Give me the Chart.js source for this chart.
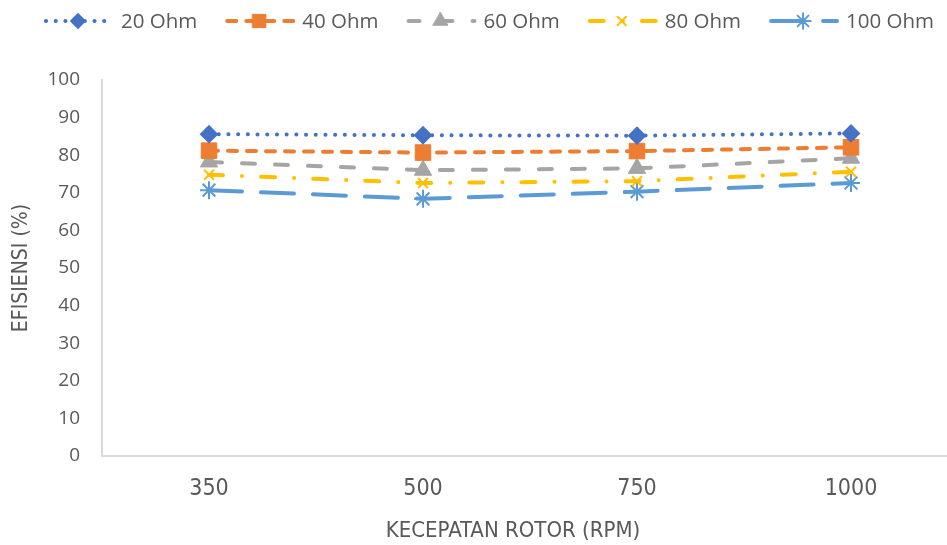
<!DOCTYPE html>
<html>
<head>
<meta charset="utf-8">
<script src="https://cdn.jsdelivr.net/npm/chart.js@4/dist/chart.umd.min.js"></script>
<style>
  html, body { margin: 0; padding: 0; background: #ffffff; overflow: hidden; }
  #wrap { position: relative; width: 977px; height: 545px; }
</style>
</head>
<body>
<div id="wrap"><canvas id="chart"></canvas></div>
<script>
// Rotor speed categories (RPM)
const speeds = ['350', '500', '750', '1000'];

// Efficiency (%) per load resistance
const eff20 = [85.6, 85.3, 85.2, 85.8];
const eff40 = [81.2, 80.7, 81.1, 82.1];
const eff60 = [78.2, 76.0, 76.5, 79.2];
const eff80 = [74.8, 72.6, 73.1, 75.6];
const eff100 = [70.7, 68.4, 70.3, 72.6];

const seriesNames = ['20 Ohm', '40 Ohm', '60 Ohm', '80 Ohm', '100 Ohm'];

// Y axis range
const yMin = 0, yMax = 100, yStep = 10;

const xTitle = 'KECEPATAN ROTOR (RPM)';
const yTitle = 'EFISIENSI (%)';

const TEXT = '#595959';
const AXIS = '#d9d9d9';
const CONDENSED = '"DejaVu Sans Condensed", "DejaVu Sans", sans-serif';
const SANS = '"Open Sans", sans-serif';

const styles = [
  { color: '#4472C4', dash: [0.1, 9.6], legendOffset: 0, pointStyle: 'rectRot', radius: 8, pBorder: 2 },
  { color: '#ED7D31', dash: [9, 10], legendOffset: 0, pointStyle: 'rect', radius: 11, pBorder: 1 },
  { color: '#A5A5A5', dash: [13, 20], legendOffset: 2, pointStyle: 'triangle', radius: 10, pBorder: 1 },
  { color: '#FFC000', dash: [14, 19, 0.1, 19], legendOffset: 0, pointStyle: 'crossRot', radius: 7, pBorder: 2 },
  { color: '#5B9BD5', dash: [33, 19], legendOffset: 0, pointStyle: 'star', radius: 9, pBorder: 2 }
];

const values = [eff20, eff40, eff60, eff80, eff100];

const datasets = seriesNames.map((name, i) => {
  const s = styles[i];
  return {
    label: name,
    data: values[i],
    borderColor: s.color,
    backgroundColor: s.color,
    borderWidth: 4,
    borderDash: s.dash,
    borderCapStyle: 'round',
    tension: 0,
    fill: false,
    pointStyle: s.pointStyle,
    pointRadius: s.radius,
    pointHoverRadius: s.radius,
    pointBorderWidth: s.pBorder,
    pointBackgroundColor: s.color,
    pointBorderColor: s.color
  };
});

// Legend row across the top: line sample with marker, then the series name
const LEGEND = { cx: 489, cy: 21, symbolW: 68, gap: 9, itemGap: 28, size: 20.5 };
const seriesLegend = {
  id: 'seriesLegend',
  afterDraw(chart) {
    const ctx = chart.ctx;
    ctx.save();
    ctx.font = LEGEND.size + 'px ' + SANS;
    const widths = seriesNames.map(n => ctx.measureText(n).width);
    const total = widths.reduce((a, w) => a + LEGEND.symbolW + LEGEND.gap + w, 0)
      + LEGEND.itemGap * (seriesNames.length - 1);
    let x = LEGEND.cx - total / 2;
    seriesNames.forEach((name, i) => {
      const s = styles[i];
      const y = LEGEND.cy;
      ctx.strokeStyle = s.color;
      ctx.fillStyle = s.color;
      ctx.lineWidth = 4;
      ctx.lineCap = 'round';
      ctx.setLineDash(s.dash);
      ctx.lineDashOffset = s.legendOffset;
      ctx.beginPath();
      ctx.moveTo(x + 2, y);
      ctx.lineTo(x + LEGEND.symbolW, y);
      ctx.stroke();
      ctx.setLineDash([]);
      ctx.lineDashOffset = 0;
      ctx.lineWidth = s.pBorder;
      Chart.helpers.drawPoint(ctx, {
        pointStyle: s.pointStyle, rotation: 0, radius: s.radius * 0.85, borderWidth: s.pBorder
      }, x + LEGEND.symbolW / 2, y);
      ctx.fillStyle = TEXT;
      ctx.textAlign = 'left';
      ctx.textBaseline = 'middle';
      ctx.fillText(name, x + LEGEND.symbolW + LEGEND.gap, y + 1);
      x += LEGEND.symbolW + LEGEND.gap + widths[i] + LEGEND.itemGap;
    });
    // horizontal axis title
    ctx.font = '22px ' + CONDENSED;
    ctx.fillStyle = TEXT;
    ctx.textAlign = 'center';
    ctx.textBaseline = 'middle';
    ctx.fillText(xTitle, 513, 531);
    ctx.restore();
  }
};

new Chart(document.getElementById('chart'), {
  type: 'line',
  data: { labels: speeds, datasets },
  plugins: [seriesLegend],
  options: {
    responsive: true,
    maintainAspectRatio: false,
    animation: false,
    events: [],
    layout: { padding: { top: 80, right: 19, bottom: 0, left: 0 } },
    plugins: {
      tooltip: { enabled: false },
      legend: { display: false }
    },
    scales: {
      x: {
        type: 'category',
        offset: true,
        grid: { display: false, drawTicks: false },
        border: { display: true, color: AXIS, width: 2 },
        ticks: {
          color: TEXT,
          padding: 19,
          font: { family: CONDENSED, size: 23 }
        },
        afterFit(scale) { scale.height = 89; }
      },
      y: {
        min: yMin,
        max: yMax,
        grid: { display: false, drawTicks: false },
        border: { display: true, color: AXIS, width: 2 },
        ticks: {
          stepSize: yStep,
          color: TEXT,
          padding: 22,
          font: { family: SANS, size: 19 }
        },
        title: {
          display: true,
          text: yTitle,
          color: TEXT,
          padding: { top: 9, bottom: 0 },
          font: { family: CONDENSED, size: 21 }
        },
        afterFit(scale) { scale.width = 102; }
      }
    }
  }
});
</script>
</body>
</html>
